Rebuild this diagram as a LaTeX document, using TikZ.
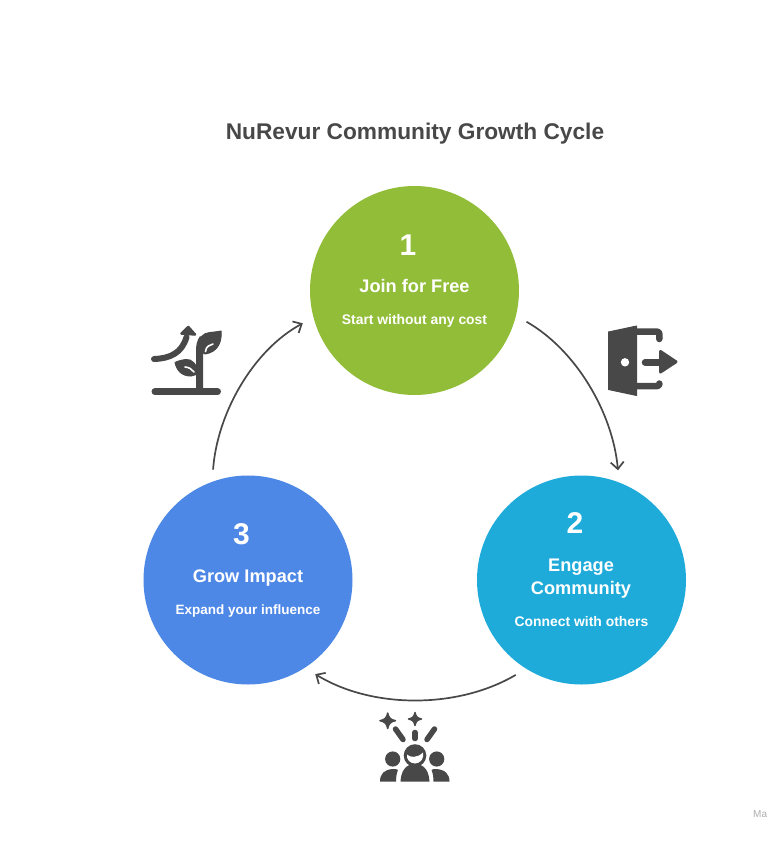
\documentclass[tikz,border=0pt]{standalone}
\usepackage{fontspec}
\setmainfont{Liberation Sans}
\usetikzlibrary{arrows.meta}
\definecolor{ink}{HTML}{484848}
\definecolor{cgreen}{HTML}{92BD39}
\definecolor{cblue}{HTML}{1EABDA}
\definecolor{cindigo}{HTML}{4E88E7}
\tikzset{
  stage/.style={circle,minimum size=209pt,inner sep=0pt,draw=none},
  num/.style={text=white,font=\bfseries\fontsize{30}{30}\selectfont,inner sep=0pt},
  head/.style={text=white,font=\bfseries\fontsize{18.2}{23.2}\selectfont,inner sep=0pt,align=center},
  sub/.style={text=white,font=\bfseries\fontsize{13.9}{16}\selectfont,inner sep=0pt},
  flow/.style={draw=ink,line width=1.7pt,-{Straight Barb[length=7pt,width=13pt,line width=1.7pt]},shorten <=12pt,shorten >=12pt},
  solid ink/.style={fill=ink,draw=ink,line width=1pt,line join=round},
  stroke ink/.style={draw=ink,line cap=round,line join=round},
  gapline/.style={draw=white,line cap=round}
}
\begin{document}
\begin{tikzpicture}[x=1pt,y=-1pt]
\useasboundingbox (0,0) rectangle (768,841);
\fill[white] (0,0) rectangle (768,841);
\node[text=ink,font=\bfseries\fontsize{22.7}{28}\selectfont,inner sep=0pt] (title) at (415,133.5) {NuRevur Community Growth Cycle};

\node[stage,fill=cgreen] (c1) at (414.5,290.5) {};
\node[stage,fill=cblue] (c2) at (581.5,580) {};
\node[stage,fill=cindigo] (c3) at (248,580) {};

\node[num] (n1) at (408,245) {1};
\node[head] (h1) at (414.5,286) {Join for Free};
\node[sub] (s1) at (414.5,321) {Start without any cost};
\node[num] (n2) at (575,523) {2};
\node[head] (h2) at (581,579) {Engage\\Community};
\node[sub] (s2) at (581.5,622) {Connect with others};
\node[num] (n3) at (241.5,534.5) {3};
\node[head] (h3) at (248,578) {Grow Impact};
\node[sub,font=\bfseries\fontsize{13.5}{16}\selectfont] (s3) at (248,611) {Expand your influence};

\draw[flow] (c1.-14.3) .. controls (576.2,350) and (612.9,413.1) .. (c2.69.7);
\draw[flow] (c2.-122.3) .. controls (458,709) and (372,709) .. (c3.-57);
\draw[flow] (c3.110.2) .. controls (217.1,413.1) and (253.3,350) .. (c1.-165.6);

% plant icon
\draw[stroke ink,line width=7pt] (155,391.7) -- (217.5,391.7);
\draw[stroke ink,line width=7pt,line cap=butt] (199.5,391) -- (199.5,352) .. controls (199.5,346) and (200,342) .. (203,338);
\fill[solid ink] (198,350) .. controls (197,338) and (203,333) .. (210,332.5) .. controls (215,332) and (219,331.5) .. (221,331) .. controls (222,340) and (219,352) .. (205,354) -- cycle;
\draw[gapline,line width=1.6pt] (205.5,351.5) .. controls (206,346) and (210,345) .. (213,344);
\fill[solid ink] (198,374) .. controls (197,364) and (192,359) .. (186,359.5) .. controls (182,360) and (178,361) .. (175,362.5) .. controls (177,371) and (182,376) .. (191,376) -- cycle;
\draw[gapline,line width=1.6pt] (185,367) .. controls (189,367) and (192,369.5) .. (194,372);
\draw[stroke ink,line width=6pt] (154,359) .. controls (170,358.5) and (182,353) .. (186.5,337);
\fill[solid ink,line width=2.5pt] (181.5,333.5) -- (188.3,327) -- (195,334.5) -- cycle;

% door icon
\fill[solid ink] (608.5,332) -- (636.7,326) -- (636.7,395.5) -- (608.5,389.5) -- cycle;
\fill[white] (625,362.3) circle (4.2pt);
\draw[stroke ink,line width=6.5pt,line cap=butt,rounded corners=2pt] (636,331.7) -- (659.3,331.7) -- (659.3,339);
\fill[ink] (659.3,339) circle (3.25pt);
\draw[stroke ink,line width=6.5pt,line cap=butt,rounded corners=2pt] (636,386) -- (659.3,386) -- (659.3,383.5);
\fill[ink] (659.3,383.5) circle (3.25pt);
\draw[stroke ink,line width=6.5pt] (645,362.3) -- (662,362.3);
\fill[solid ink,line width=3pt] (660.5,351.5) -- (676,361.8) -- (660.5,372) -- cycle;

% people icon
\fill[solid ink,line width=1.4pt] (387.7,713) .. controls (388.8,718) and (390.5,719.6) .. (395.5,720.7) .. controls (390.5,721.8) and (388.8,723.4) .. (387.7,728.5) .. controls (386.6,723.4) and (384.9,721.8) .. (379.9,720.7) .. controls (384.9,719.6) and (386.6,718) .. (387.7,713) -- cycle;
\fill[solid ink,line width=1.4pt] (415,712.5) .. controls (416,716.8) and (417.3,718) .. (421.5,719) .. controls (417.3,720) and (416,721.2) .. (415,725.5) .. controls (414,721.2) and (412.7,720) .. (408.5,719) .. controls (412.7,718) and (414,716.8) .. (415,712.5) -- cycle;
\draw[stroke ink,line width=5.5pt] (395.5,729) -- (403,739.5);
\draw[stroke ink,line width=5.5pt] (415,732.5) -- (415,738.5);
\draw[stroke ink,line width=5.5pt] (434.5,729) -- (427,739.5);
\fill[ink] (415,755.5) circle (11.3pt);
\fill[white] (407,754.5) .. controls (410,757.5) and (417,758.5) .. (423,752.5) .. controls (424.5,758) and (420.5,763.5) .. (415,763.5) .. controls (410,763.5) and (406,759) .. (407,754.5) -- cycle;
\fill[ink] (400.5,781.5) .. controls (401,772) and (405,764) .. (415,764) .. controls (425,764) and (429,772) .. (429.5,781.5) -- cycle;
\fill[ink] (392.7,759) circle (7.6pt);
\fill[ink] (436.7,759) circle (7.6pt);
\fill[ink] (380,781.5) .. controls (380,774) and (384,769.5) .. (393,769) .. controls (395,769) and (397,769) .. (398,770) .. controls (396.5,773) and (396,778) .. (396,781.5) -- cycle;
\fill[ink] (449.5,781.5) .. controls (449.5,774) and (445,769.5) .. (436,769) .. controls (434,769) and (432.5,769) .. (431.5,770) .. controls (433,773) and (433.5,778) .. (433.5,781.5) -- cycle;

\node[text=black!32,font=\fontsize{10}{10}\selectfont,inner sep=0pt,anchor=west] (wm) at (753,814) {Ma};
\end{tikzpicture}
\end{document}
